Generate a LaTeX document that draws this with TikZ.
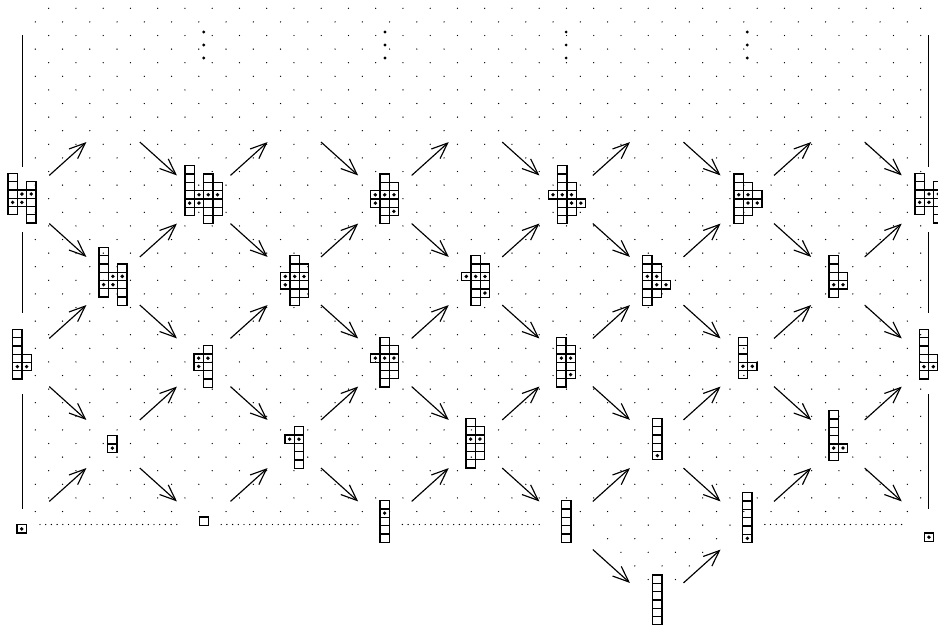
\documentclass[tikz,border=0pt]{standalone}
\usetikzlibrary{arrows.meta}
\tikzset{
  cellbox/.style={draw=black, line width=1.25pt},
  bead/.style={fill=black},
  grdot/.style={fill=black},
  arr/.style={line width=1.15pt, -{Straight Barb[length=16pt,width=13pt,line width=1.15pt]}, shorten <=36pt, shorten >=36pt},
  sideline/.style={line width=1.5pt},
  basedots/.style={line width=1.4pt, line cap=round, dash pattern=on 0pt off 5.7pt},
}
% #1 name, #2 origin, #3 columns c/firstrow/ncells, #4 beads c/r
\newcommand\ydiag[4]{%
  \coordinate (#1) at #2;
  \begin{scope}[shift={#2}]
    \foreach \c/\a/\n in {#3}{
      \foreach \i in {1,...,\n}{
        \draw[cellbox] ({\c*9.3},{(\a+\i-1)*8.3}) rectangle ++(9.3,8.3);
      }
    }
    \foreach \c/\r in {#4}{
      \fill[bead] ({(\c+0.5)*9.3},{(\r+0.5)*8.3}) circle[radius=1.9pt];
    }
  \end{scope}}
\newcommand\ydiagnd[3]{%
  \coordinate (#1) at #2;
  \begin{scope}[shift={#2}]
    \foreach \c/\a/\n in {#3}{
      \foreach \i in {1,...,\n}{
        \draw[cellbox] ({\c*9.3},{(\a+\i-1)*8.3}) rectangle ++(9.3,8.3);
      }
    }
  \end{scope}}
\begin{document}
\begin{tikzpicture}[x=1pt,y=-1pt]
\useasboundingbox (0,0) rectangle (938,627);
\fill[white] (0,0) rectangle (938,627);
\clip (0,0) rectangle (938,627);
% background lattice of dots
\foreach \k in {0,...,37}{
  \pgfmathsetmacro\yy{8.3+13.6*\k}
  \pgfmathsetmacro\xo{mod(\k,2)==0 ? 48.7 : 35.3}
  \foreach \m in {0,...,32}{
    \fill[grdot] (\xo+27.25*\m,\yy) circle[radius=0.7pt];
  }
}
\foreach \k/\ma/\mb in {38/20/25,39/21/25,40/21/24,41/22/24,42/22/23}{
  \pgfmathsetmacro\yy{8.3+13.6*\k}
  \pgfmathsetmacro\xo{mod(\k,2)==0 ? 48.7 : 35.3}
  \foreach \m in {\ma,...,\mb}{
    \fill[grdot] (\xo+27.25*\m,\yy) circle[radius=0.7pt];
  }
}
% lattice points
\foreach \c in {0,...,10}{
  \foreach \r in {0,...,6}{
    \coordinate (n-\c-\r) at (22.5+90.6*\c,118+81.5*\r);
  }
}
% vertical dots
\foreach \c in {2,4,6,8}{
  \foreach \yy in {32,45,58}{
    \fill (22.5+90.6*\c,\yy) circle[radius=1.6pt];
  }
}
% arrows
\foreach \c in {0,2,4,6,8}{
  \pgfmathtruncatemacro\cc{\c+1}
  \foreach \r in {1,3,5}{
    \pgfmathtruncatemacro\rr{\r-1}
    \draw[arr] (n-\c-\r) -- (n-\cc-\rr);
  }
  \foreach \r in {1,3}{
    \pgfmathtruncatemacro\rr{\r+1}
    \draw[arr] (n-\c-\r) -- (n-\cc-\rr);
  }
}
\foreach \c in {1,3,5,7,9}{
  \pgfmathtruncatemacro\cc{\c+1}
  \foreach \r in {0,2,4}{
    \pgfmathtruncatemacro\rr{\r+1}
    \draw[arr] (n-\c-\r) -- (n-\cc-\rr);
  }
  \foreach \r in {2,4}{
    \pgfmathtruncatemacro\rr{\r-1}
    \draw[arr] (n-\c-\r) -- (n-\cc-\rr);
  }
}
\draw[arr] (n-6-5) -- (n-7-6);
\draw[arr] (n-7-6) -- (n-8-5);
% side lines
\foreach \s/\xx in {l/22.5,r/928.5}{
  \coordinate (v\s1) at (\xx,35);
  \coordinate (v\s2) at (\xx,167);
  \coordinate (v\s3) at (\xx,232);
  \coordinate (v\s4) at (\xx,313);
  \coordinate (v\s5) at (\xx,394);
  \coordinate (v\s6) at (\xx,509);
  \draw[sideline] (v\s1) -- (v\s2);
  \draw[sideline] (v\s3) -- (v\s4);
  \draw[sideline] (v\s5) -- (v\s6);
}
% dotted base line
\foreach \a/\b in {0/2,2/4,4/6,8/10}{
  \draw[basedots, shorten <=17.5pt, shorten >=21.5pt] ([yshift=1pt]n-\a-5) -- ([yshift=1pt]n-\b-5);
}
% diagrams
\ydiag{A}{(8,173.3)}{0/0/5,1/2/2,2/1/5}{1/2,2/2,0/3,1/3}
\ydiag{B}{(185,165.7)}{0/0/6,1/3/2,2/1/6,3/2/4}{1/3,2/3,3/3,0/4,1/4}
\ydiag{C}{(370.7,174)}{0/2/2,1/0/6,2/1/4}{0/2,1/2,2/2,0/3,2/4}
\ydiag{O}{(548.3,165.7)}{0/3/1,1/0/7,2/2/4,3/4/1}{0/3,1/3,2/3,2/4,3/4}
\ydiag{Q}{(734,174)}{0/0/6,1/1/4,2/2/2}{0/2,1/2,1/3,2/3}
\ydiag{S}{(915,173.3)}{0/0/5,1/2/2,2/1/5}{1/2,2/2,0/3,1/3}
\ydiag{E}{(99,247.3)}{0/0/6,1/3/2,2/2/5}{1/3,2/3,0/4,1/4}
\ydiag{D}{(280.7,255.7)}{0/2/2,1/0/6,2/1/4}{0/2,1/2,2/2,0/3}
\ydiag{N}{(461.7,255.7)}{0/2/1,1/0/6,2/1/4}{0/2,1/2,2/2,2/4}
\ydiag{P}{(642.7,255.7)}{0/0/6,1/1/4,2/3/1}{0/2,1/2,1/3,2/3}
\ydiag{R}{(829,255.7)}{0/0/5,1/2/2}{0/3,1/3}
\ydiag{F}{(12.7,329.3)}{0/0/6,1/3/2}{0/4,1/4}
\ydiag{G}{(194,345.7)}{0/1/2,1/0/5}{0/1,1/1,0/2}
\ydiag{H}{(370.7,337.3)}{0/2/1,1/0/6,2/1/4}{0/2,1/2,2/2}
\ydiag{AB}{(556.7,337.3)}{0/0/6,1/1/4}{0/2,1/2,1/4}
\ydiag{V}{(738.3,337.3)}{0/0/5,1/3/1}{0/3,1/3}
\ydiag{T}{(919.3,329.3)}{0/0/6,1/3/2}{0/4,1/4}
\ydiag{J}{(107.7,435.7)}{0/0/2}{0/1}
\ydiag{I}{(285,426.7)}{0/1/1,1/0/5}{0/1,1/1}
\ydiag{AC}{(466,418.3)}{0/0/6,1/1/4}{0/2,1/2}
\ydiag{Y}{(652.7,418.3)}{0/0/5}{0/4}
\ydiag{W}{(829,410.7)}{0/0/6,1/4/1}{0/4,1/4}
\ydiag{K}{(17,524.8)}{0/0/1}{0/0}
\ydiagnd{L}{(199.5,517)}{0/0/1}
\ydiag{M}{(380,500.7)}{0/0/5}{0/1}
\ydiagnd{Z}{(561.7,500.7)}{0/0/5}
\ydiag{X}{(742.7,492.7)}{0/0/6}{0/5}
\ydiag{U}{(924.3,533)}{0/0/1}{0/0}
\ydiagnd{AA}{(652.7,575)}{0/0/6}
\end{tikzpicture}
\end{document}
